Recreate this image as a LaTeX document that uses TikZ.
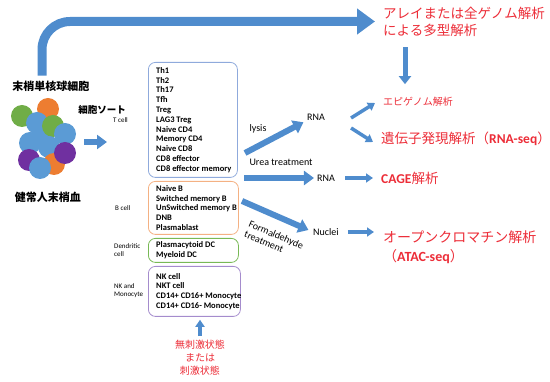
\documentclass[tikz,border=0pt]{standalone}
\usepackage{fontspec}
\usepackage{tikz}
\usepackage{xcolor}
\usetikzlibrary{arrows.meta}
\setmainfont{Carlito}
\newfontfamily\jp{Noto Sans CJK JP}
\definecolor{arrowblue}{RGB}{79,140,205}
\definecolor{resultred}{RGB}{236,45,56}
\definecolor{cellblue}{RGB}{91,155,213}
\definecolor{cellorange}{RGB}{237,125,49}
\definecolor{cellgreen}{RGB}{112,173,71}
\definecolor{cellpurple}{RGB}{112,48,160}
\definecolor{tline}{RGB}{143,170,220}
\definecolor{bline}{RGB}{244,177,131}
\definecolor{dcline}{RGB}{120,185,85}
\definecolor{nkline}{RGB}{165,140,205}
\tikzset{
  hugearrow/.style={arrowblue, line width=9pt, -{Triangle[width=25pt,length=18pt]}},
  fatarrow/.style={arrowblue, line width=6pt, -{Triangle[width=14pt,length=10pt]}},
  midarrow/.style={arrowblue, line width=5pt, -{Triangle[width=12pt,length=8pt]}},
  thinarrow/.style={arrowblue, line width=3.5pt, -{Triangle[width=9pt,length=7pt]}},
  cellbox/.style={draw=#1, line width=0.8pt, rounded corners=7pt, anchor=north west, inner sep=0pt},
  celllist/.style={anchor=west, align=left, inner sep=0pt, font=\fontsize{8.5}{9.8}\selectfont\bfseries},
  cellkind/.style={anchor=west, align=left, inner sep=0pt, font=\fontsize{7}{8}\selectfont},
  steplabel/.style={inner sep=0pt, font=\fontsize{10}{11}\selectfont},
  result/.style={anchor=west, align=left, inner sep=0pt, text=resultred, font=\jp\fontsize{13.5}{17}\selectfont},
  jplabel/.style={inner sep=0pt, font=\jp\bfseries\fontsize{11}{13}\selectfont},
}
\begin{document}
\begin{tikzpicture}[x=1pt,y=-1pt]
\useasboundingbox (0,0) rectangle (550,382);

\foreach \x/\y/\c in {48/109/cellorange, 22/116/cellgreen, 37/123/cellblue, 42/134/cellblue,
  53/126/cellgreen, 65/134/cellblue, 30/143/cellblue, 49/147/cellblue, 54/164/cellorange,
  65/153/cellpurple, 29/160/cellpurple, 40/168/cellblue}
  \fill[\c] (\x,\y) circle (11pt);

\node[jplabel] (pbmc) at (51,86) {末梢単核球細胞};
\node[jplabel] (blood) at (48,197) {健常人末梢血};
\node[jplabel, font=\jp\bfseries\fontsize{9.5}{11}\selectfont] (sort) at (102,110) {細胞ソート};

\node[cellkind] (tlabel) at (113,120) {T cell};
\node[cellkind] (blabel) at (115,208) {B cell};
\node[cellkind] (dclabel) at (114,250) {Dendritic\\cell};
\node[cellkind] (nklabel) at (114,291) {NK and\\Monocyte};

\node[cellbox=tline, minimum width=89pt, minimum height=115pt] (tcell) at (148,62) {};
\node[cellbox=bline, minimum width=90pt, minimum height=53pt] (bcell) at (148,181) {};
\node[cellbox=dcline, minimum width=90pt, minimum height=24pt] (dc) at (148,238) {};
\node[cellbox=nkline, minimum width=92pt, minimum height=50pt] (nk) at (148,266) {};

\node[celllist] (tlist) at ([xshift=8pt]tcell.west)
  {Th1\\Th2\\Th17\\Tfh\\Treg\\LAG3 Treg\\Naive CD4\\Memory CD4\\Naive CD8\\CD8 effector\\CD8 effector memory};
\node[celllist] (blist) at ([xshift=8pt]bcell.west)
  {Naive B\\Switched memory B\\UnSwitched memory B\\DNB\\Plasmablast};
\node[celllist] (dclist) at ([xshift=8pt]dc.west)
  {Plasmacytoid DC\\Myeloid DC};
\node[celllist] (nklist) at ([xshift=8pt]nk.west)
  {NK cell\\NKT cell\\CD14+ CD16+ Monocyte\\CD14+ CD16- Monocyte};

\node[inner sep=0pt, text=resultred, align=center, font=\jp\fontsize{10}{13}\selectfont] (stim) at (200,358)
  {無刺激状態\\または\\刺激状態};

\node[steplabel] (lysis) at (258,129) {lysis};
\node[steplabel] (urea) at (281,162) {Urea treatment};
\node[steplabel, rotate=-23, align=left] (formal) at (274,240) {Formaldehyde\\treatment};
\node[steplabel] (rna1) at (316,117) {RNA};
\node[steplabel] (rna2) at (326,178) {RNA};
\node[steplabel] (nuclei) at (326,232) {Nuclei};

\node[result] (array) at (383,21.5) {アレイまたは全ゲノム解析\\による多型解析};
\node[result, font=\jp\fontsize{10}{12}\selectfont] (epi) at (383,102) {エピゲノム解析};
\node[result] (rnaseq) at (381,139) {遺伝子発現解析（{\rmfamily\bfseries RNA-seq}）};
\node[result] (cage) at (381,178) {{\rmfamily\bfseries CAGE}解析};
\node[result, font=\jp\fontsize{14}{19}\selectfont] (atac) at (383,247) {オープンクロマチン解析\\（{\rmfamily\bfseries ATAC-seq}）};

\coordinate (sortfrom) at (84,142);
\coordinate (sortto) at (107,142);
\coordinate (lysisfrom) at (245,153);
\coordinate (ureafrom) at (244,178);
\coordinate (formfrom) at (242,201);

\draw[hugearrow, rounded corners=28pt] ([shift={(-9,-5)}]pbmc.north) |- ([xshift=-8pt]array.west);
\draw[midarrow] ([xshift=22pt,yshift=-11pt]array.south west) -- ([xshift=22pt,yshift=13pt]epi.north west);
\draw[fatarrow] (sortfrom) -- (sortto);
\draw[fatarrow, shorten >=4pt] (lysisfrom) -- (rna1.south west);
\draw[fatarrow, shorten >=3pt] (ureafrom) -- (rna2.west);
\draw[fatarrow, shorten >=5pt] (formfrom) -- (nuclei.west);
\draw[thinarrow] ([xshift=26pt,yshift=-1pt]rna1.east) -- ([xshift=-8pt,yshift=-1pt]epi.west);
\draw[thinarrow] ([xshift=26pt,yshift=-11pt]rna1.east) -- ([xshift=-8pt,yshift=-3pt]rnaseq.west);
\draw[thinarrow, shorten <=10pt, shorten >=8pt] (rna2.east) -- (rna2.east -| cage.west);
\draw[thinarrow, shorten <=9pt, shorten >=9pt] (nuclei.east) -- (nuclei.east -| atac.west);
\draw[thinarrow, shorten <=4pt, shorten >=3pt] (stim.north) -- (stim.north |- nk.south);
\end{tikzpicture}
\end{document}
